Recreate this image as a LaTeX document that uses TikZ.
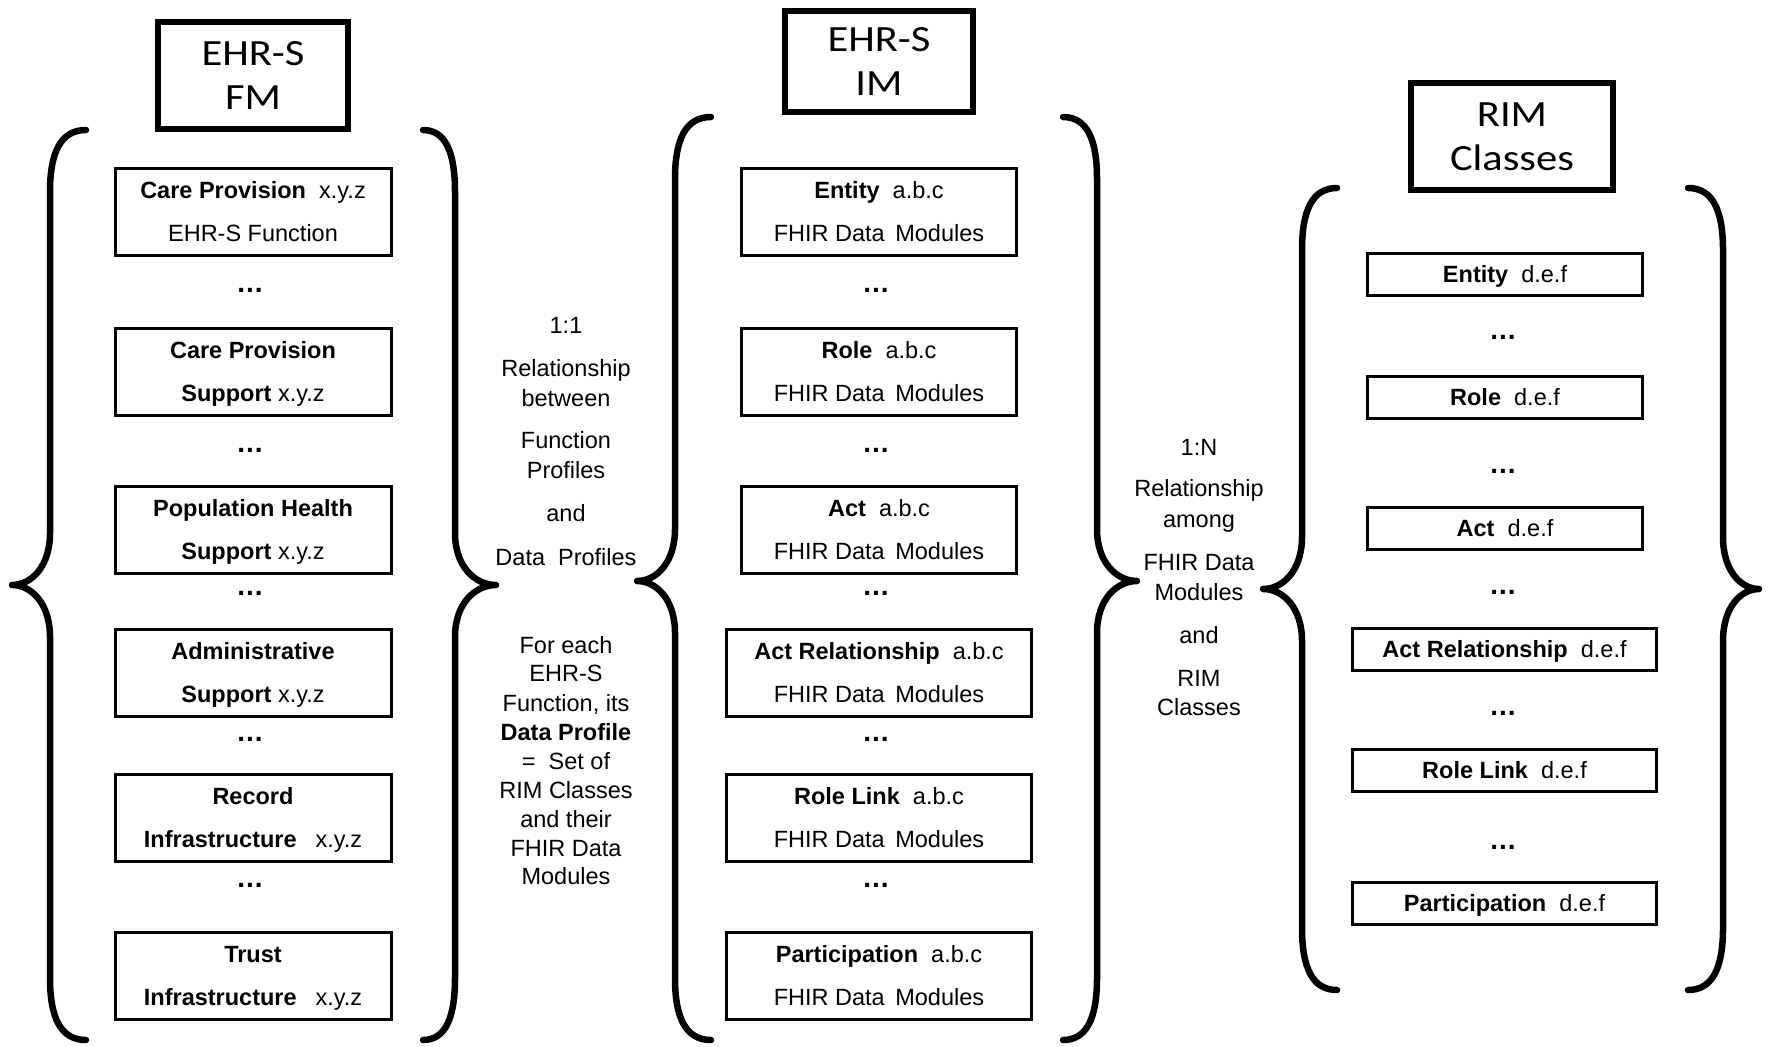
\documentclass[tikz,border=0pt]{standalone}
\usepackage{fontspec}
\setmainfont{Liberation Sans}
\newfontfamily\titlefam[FakeStretch=1.15]{Carlito}
\newcommand\fmbody{\fontsize{23.5}{43}\selectfont}
\newcommand\fmtitle{\titlefam\fontsize{37}{44}\selectfont}
\newcommand\fmdots{\bfseries\fontsize{28}{30}\selectfont}
% struts that put the cap-height middle of each line where it belongs
\newcommand\bx{\rule[-0.233em]{0pt}{1.183em}}
\newcommand\tx{\rule[-0.268em]{0pt}{1.168em}}
\newcommand\dsp{\hspace{0.556em}}
% curly brace: #1 end x, #2 stem x, #3 tip x, #4 top y, #5 tip y, #6 bottom y
\newcommand{\drawbrace}[6]{%
  \draw[bracestroke] (#1,#4)
    .. controls ({#2+0.3*(#1-#2)},#4) and (#2,{#4+22}) .. (#2,{#4+62})
    -- (#2,{#5-52})
    .. controls (#2,{#5-18}) and ({#3+0.5*(#2-#3)},#5) .. (#3,#5)
    .. controls ({#3+0.5*(#2-#3)},#5) and (#2,{#5+18}) .. (#2,{#5+52})
    -- (#2,{#6-62})
    .. controls (#2,{#6-22}) and ({#2+0.3*(#1-#2)},#6) .. (#1,#6);}
\begin{document}
\begin{tikzpicture}[x=1pt, y=-1pt,
  bracestroke/.style={line width=6.5pt, line cap=round, line join=round},
  headbox/.style={draw, line width=6pt, inner sep=0pt, align=center, font=\fmtitle},
  infobox/.style={draw, line width=3pt, inner sep=0pt, align=center, font=\fmbody},
  rowtall/.style={minimum height=87pt},
  rowflat/.style={minimum height=42pt},
  colnarrow/.style={minimum width=275pt},
  colwide/.style={minimum width=305pt},
  dotrow/.style={inner sep=0pt, anchor=base, font=\fmdots},
  midline/.style={inner sep=0pt, font=\fmbody}]
\useasboundingbox (0,0) rectangle (1768,1046);
\fill[white] (0,0) rectangle (1768,1046);

% ---------- EHR-S Function Model ----------
\node[headbox, minimum width=190pt, minimum height=107pt] (fmhead) at (253,75.5) {\tx EHR-S\\\tx FM};
\node[infobox, rowtall, minimum width=276pt] (fm1) at (253,212) {\bx\textbf{Care Provision}\dsp x.y.z\\\bx EHR-S Function};
\node[infobox, rowtall, minimum width=276pt] (fm2) at (253,372) {\bx\textbf{Care Provision}\\\bx\textbf{Support} x.y.z};
\node[infobox, rowtall, minimum width=276pt] (fm3) at (253,530) {\bx\textbf{Population Health}\\\bx\textbf{Support} x.y.z};
\node[infobox, rowtall, minimum width=276pt] (fm4) at (253,672.5) {\bx\textbf{Administrative}\\\bx\textbf{Support} x.y.z};
\node[infobox, rowtall, minimum width=276pt] (fm5) at (253,818) {\bx\textbf{Record}\\\bx\textbf{Infrastructure}\hspace{0.8em}x.y.z};
\node[infobox, rowtall, minimum width=276pt] (fm6) at (253,976) {\bx\textbf{Trust}\\\bx\textbf{Infrastructure}\hspace{0.8em}x.y.z};
\foreach \y [count=\i] in {290,450,593,739,885}
  \node[dotrow] (fmdots\i) at (250,{\y+2}) {.\kern1pt.\kern1pt.};
\drawbrace{86}{50}{12}{130}{585}{1040}
\drawbrace{423}{455}{496}{130}{585}{1040}

% ---------- 1:1 relationship text ----------
\foreach \lbl/\y [count=\i] in {1:1/325, Relationship/368, between/398, Function/440, Profiles/470, and/513,
    {Data\dsp Profiles}/557, For each/645, EHR-S/673, {Function, its}/703, {\textbf{Data Profile}}/732,
    {=\dsp Set of}/761, RIM Classes/790, and their/819, FHIR Data/848, Modules/876}
  \node[midline] (fp\i) at (566,\y) {\bx\lbl};

% ---------- EHR-S Information Model ----------
\node[headbox, minimum width=188pt, minimum height=101pt] (imhead) at (879,61.5) {\tx EHR-S\\\tx IM};
\node[infobox, rowtall, colnarrow] (im1) at (879,212) {\bx\textbf{Entity}\dsp a.b.c\\\bx FHIR Data\hspace{0.45em}Modules};
\node[infobox, rowtall, colnarrow] (im2) at (879,372) {\bx\textbf{Role}\dsp a.b.c\\\bx FHIR Data\hspace{0.45em}Modules};
\node[infobox, rowtall, colnarrow] (im3) at (879,530) {\bx\textbf{Act}\dsp a.b.c\\\bx FHIR Data\hspace{0.45em}Modules};
\node[infobox, rowtall, colwide] (im4) at (879,672.5) {\bx\textbf{Act Relationship}\dsp a.b.c\\\bx FHIR Data\hspace{0.45em}Modules};
\node[infobox, rowtall, colwide] (im5) at (879,818) {\bx\textbf{Role Link}\dsp a.b.c\\\bx FHIR Data\hspace{0.45em}Modules};
\node[infobox, rowtall, colwide] (im6) at (879,976) {\bx\textbf{Participation}\dsp a.b.c\\\bx FHIR Data\hspace{0.45em}Modules};
\foreach \y [count=\i] in {290,450,593,739,885}
  \node[dotrow] (imdots\i) at (876,{\y+2}) {.\kern1pt.\kern1pt.};
\drawbrace{711}{675}{637}{117}{581}{1040}
\drawbrace{1063}{1097}{1137}{117}{581}{1040}

% ---------- 1:N relationship text ----------
\foreach \lbl/\y [count=\i] in {1:N/447, Relationship/488, among/519, FHIR Data/562, Modules/592,
    and/635, RIM/678, Classes/707}
  \node[midline] (rn\i) at (1199,\y) {\bx\lbl};

% ---------- RIM Classes ----------
\node[headbox, minimum width=202pt, minimum height=107pt] (rimhead) at (1512,136.5) {\tx RIM\\\tx Classes};
\node[infobox, rowflat, colnarrow] (rim1) at (1505,274.5) {\bx\textbf{Entity}\dsp d.e.f};
\node[infobox, rowflat, colnarrow] (rim2) at (1505,397) {\bx\textbf{Role}\dsp d.e.f};
\node[infobox, rowflat, colnarrow] (rim3) at (1505,528) {\bx\textbf{Act}\dsp d.e.f};
\node[infobox, rowflat, minimum width=304pt] (rim4) at (1504.5,649) {\bx\textbf{Act Relationship}\dsp d.e.f};
\node[infobox, rowflat, minimum width=304pt] (rim5) at (1504.5,770) {\bx\textbf{Role Link}\dsp d.e.f};
\node[infobox, rowflat, minimum width=304pt] (rim6) at (1504.5,903.5) {\bx\textbf{Participation}\dsp d.e.f};
\foreach \y [count=\i] in {337,471,592,713,847}
  \node[dotrow] (rimdots\i) at (1503,{\y+2}) {.\kern1pt.\kern1pt.};
\drawbrace{1337}{1302}{1263}{188}{589}{990}
\drawbrace{1688}{1723}{1759}{188}{589}{990}
\end{tikzpicture}
\end{document}
